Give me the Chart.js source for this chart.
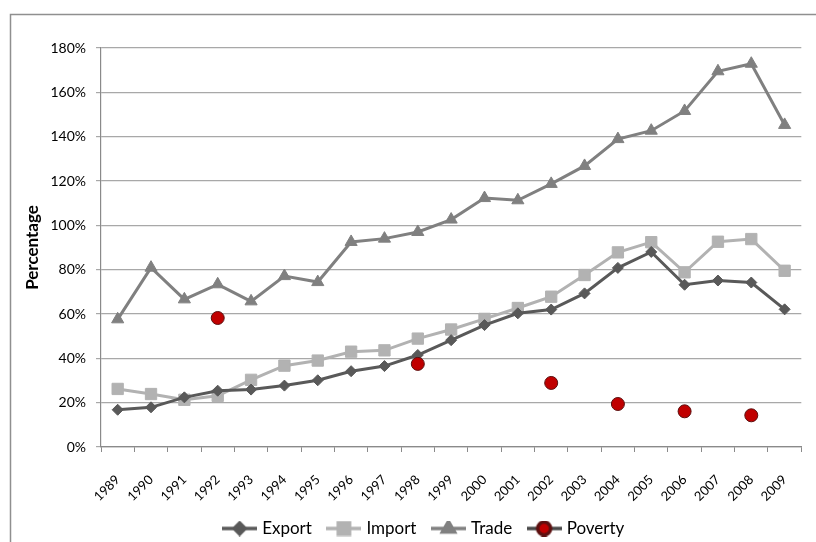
<!DOCTYPE html>
<html>
<head>
<meta charset="utf-8">
<script src="https://cdn.jsdelivr.net/npm/chart.js@4/dist/chart.umd.min.js"></script>
<style>
  html, body { margin: 0; padding: 0; background: #fff; }
  #c { display: block; }
</style>
</head>
<body>
<canvas id="c" width="816" height="542"></canvas>
<script>
// Years on the category axis
const years = ['1989','1990','1991','1992','1993','1994','1995','1996','1997','1998','1999',
               '2000','2001','2002','2003','2004','2005','2006','2007','2008','2009'];

// Exports, imports and total trade as % of GDP
const exportPct = [16.8, 17.9, 22.4, 25.4, 25.9, 27.7, 30.1, 34.2, 36.5, 41.5, 48.2,
                   55.0, 60.3, 62.0, 69.3, 80.8, 88.0, 73.2, 75.1, 74.2, 62.1];
const importPct = [26.2, 23.9, 21.3, 23.1, 30.3, 36.7, 39.0, 43.0, 43.6, 48.9, 53.0,
                   57.8, 62.7, 67.8, 77.6, 87.8, 92.4, 78.8, 92.6, 93.8, 79.5];
const tradePct  = [57.6, 80.9, 66.6, 73.4, 65.7, 77.1, 74.4, 92.5, 94.0, 97.0, 102.6,
                   112.3, 111.3, 118.7, 126.8, 138.9, 142.7, 151.6, 169.5, 172.9, 145.3];

// Poverty headcount, only surveyed years
const povertyPct = [null, null, null, 58.2, null, null, null, null, null, 37.5, null,
                    null, null, 28.9, null, 19.4, null, 16.1, null, 14.3, null];

// Value axis ticks
const yTicks = [0, 20, 40, 60, 80, 100, 120, 140, 160, 180];

const FONT = 'Lato, "Open Sans", sans-serif';

// Legend swatch: a short line with the series marker in its middle
function legendIcon(lineColor, style, fill, stroke, radius) {
  const w = 35, h = 16;
  const cv = document.createElement('canvas');
  cv.width = w; cv.height = h;
  const ctx = cv.getContext('2d');
  ctx.strokeStyle = lineColor;
  ctx.lineWidth = 3.5;
  ctx.beginPath();
  ctx.moveTo(0, h / 2);
  ctx.lineTo(w, h / 2);
  ctx.stroke();
  ctx.fillStyle = fill;
  ctx.strokeStyle = stroke;
  Chart.helpers.drawPoint(ctx, { pointStyle: style, radius: radius, rotation: 0, borderWidth: 1 }, w / 2, h / 2);
  return cv;
}

const exportColor = '#595959';
const importColor = '#b2b2b2';
const tradeColor  = '#808080';
const povertyFill = '#c00000';
const povertyEdge = '#5c1010';

// Outer frame of the chart block
const framePlugin = {
  id: 'frame',
  beforeDraw(chart) {
    const ctx = chart.ctx;
    ctx.save();
    ctx.fillStyle = '#fff';
    ctx.fillRect(0, 0, chart.width, chart.height);
    ctx.strokeStyle = '#8f8f8f';
    ctx.lineWidth = 1.5;
    ctx.beginPath();
    ctx.moveTo(10.5, chart.height);
    ctx.lineTo(10.5, 14.5);
    ctx.lineTo(chart.width, 14.5);
    ctx.stroke();
    ctx.restore();
  }
};

// The legend row sits centred under the whole block, not under the plot only
const legendShift = {
  id: 'legendShift',
  afterLayout(chart) {
    if (chart.legend) {
      chart.legend.left += 24;
      chart.legend.right += 24;
    }
  }
};

new Chart(document.getElementById('c'), {
  type: 'line',
  data: {
    labels: years,
    datasets: [
      {
        label: 'Export', data: exportPct,
        borderColor: exportColor, backgroundColor: exportColor, borderWidth: 3,
        pointStyle: 'rectRot', pointRadius: 5.5, pointBorderWidth: 1,
        pointBackgroundColor: exportColor, pointBorderColor: exportColor,
        legendIcon: legendIcon(exportColor, 'rectRot', exportColor, exportColor, 5.5),
        tension: 0, order: 2
      },
      {
        label: 'Import', data: importPct,
        borderColor: importColor, backgroundColor: importColor, borderWidth: 3,
        pointStyle: 'rect', pointRadius: 8, pointBorderWidth: 1,
        pointBackgroundColor: importColor, pointBorderColor: importColor,
        legendIcon: legendIcon(importColor, 'rect', importColor, importColor, 8),
        tension: 0, order: 3
      },
      {
        label: 'Trade', data: tradePct,
        borderColor: tradeColor, backgroundColor: tradeColor, borderWidth: 3,
        pointStyle: 'triangle', pointRadius: 7, pointBorderWidth: 1,
        pointBackgroundColor: tradeColor, pointBorderColor: tradeColor,
        legendIcon: legendIcon(tradeColor, 'triangle', tradeColor, tradeColor, 7),
        tension: 0, order: 4
      },
      {
        label: 'Poverty', data: povertyPct,
        showLine: false,
        borderColor: '#474747', backgroundColor: povertyFill,
        pointStyle: 'circle', pointRadius: 6.5, pointBorderWidth: 1,
        pointBackgroundColor: povertyFill, pointBorderColor: povertyEdge,
        legendIcon: legendIcon('#474747', 'circle', povertyFill, povertyEdge, 6.5),
        order: 1
      }
    ]
  },
  options: {
    responsive: false,
    animation: false,
    layout: { padding: { top: 48, right: 14, left: 0, bottom: -5 } },
    plugins: {
      tooltip: { enabled: false },
      legend: {
        position: 'bottom',
        labels: {
          usePointStyle: true,
          pointStyleWidth: 28,
          padding: 18,
          color: '#000',
          font: { family: FONT, size: 17 },
          generateLabels(chart) {
            return chart.data.datasets.map((ds, i) => ({
              text: ds.label,
              pointStyle: ds.legendIcon,
              fillStyle: ds.backgroundColor,
              strokeStyle: ds.borderColor,
              lineWidth: 0,
              hidden: false,
              datasetIndex: i,
              fontColor: '#000'
            }));
          }
        }
      }
    },
    scales: {
      x: {
        type: 'category',
        offset: true,
        afterFit(s) { s.height = 55; },
        grid: { offset: true, drawOnChartArea: false, drawTicks: true, tickLength: 5, color: '#8a8a8a', lineWidth: 1 },
        border: { color: '#8a8a8a', width: 1.2 },
        ticks: {
          autoSkip: false, minRotation: 45, maxRotation: 45, padding: 20,
          color: '#000', font: { family: FONT, size: 13 }
        }
      },
      y: {
        min: 0, max: 180,
        afterFit(s) { s.width = 101; },
        afterBuildTicks(s) { s.ticks = yTicks.map(v => ({ value: v })); },
        grid: { color: '#a8a8a8', lineWidth: 1.2, tickLength: 5 },
        border: { color: '#8a8a8a', width: 1.2 },
        ticks: {
          padding: 10, color: '#000',
          font: { family: FONT, size: 14 },
          callback: v => v + '%'
        },
        title: {
          display: true, text: 'Percentage', color: '#000',
          font: { family: FONT, size: 17, weight: 'bold' },
          padding: { top: 22, bottom: 0 }
        }
      }
    }
  },
  plugins: [framePlugin, legendShift]
});
</script>
</body>
</html>
